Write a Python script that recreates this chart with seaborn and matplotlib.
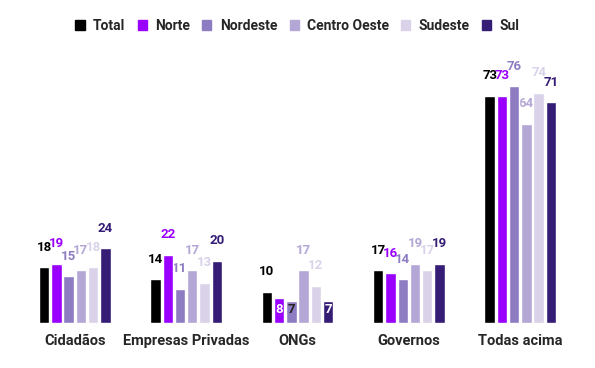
import numpy as np
import pandas as pd
import matplotlib as mpl
mpl.use("Agg")
import matplotlib.pyplot as plt
import matplotlib.colors as mcolors
import seaborn as sns

# Data
categorias = ["Cidadãos", "Empresas Privadas", "ONGs", "Governos", "Todas acima"]
regioes = ["Total", "Norte", "Nordeste", "Centro Oeste", "Sudeste", "Sul"]
total = [18, 14, 10, 17, 73]
norte = [19, 22, 8, 16, 73]
nordeste = [15, 11, 7, 14, 76]
centro_oeste = [17, 17, 17, 19, 64]
sudeste = [18, 13, 12, 17, 74]
sul = [24, 20, 7, 19, 71]
cores = ["#000000", "#9900ff", "#8e7cc3", "#b4a7d6", "#d9d2e9", "#351c75"]

series = [total, norte, nordeste, centro_oeste, sudeste, sul]
df = pd.DataFrame([(c, r, v) for r, vals in zip(regioes, series)
                   for c, v in zip(categorias, vals)],
                  columns=["categoria", "regiao", "valor"])

sns.set_style("white")
plt.rcParams['font.family'] = ['Roboto', 'DejaVu Sans']

fig = plt.figure(figsize=(5.95, 3.68), dpi=100)
ax = fig.add_axes([19 / 595, 45 / 368, 557 / 595, 249 / 368])

sns.barplot(data=df, x="categoria", y="valor", hue="regiao", order=categorias,
            hue_order=regioes, palette=cores, width=0.66, gap=0.15,
            saturation=1, legend=False, ax=ax)
ax.set_ylim(0, 80)
ax.set_xlim(-0.5, len(categorias) - 0.5)

# value labels (small values go inside the bar)
for cont, cor in zip(ax.containers, cores):
    for bar in cont:
        v = bar.get_height()
        x = bar.get_x() + bar.get_width() / 2
        if v < 9:
            r, g, b = mcolors.to_rgb(cor)
            lum = 0.2126 * r + 0.7152 * g + 0.0722 * b
            tc = "#222222" if lum > 0.2 else "white"
            ax.text(x, 4.2, f"{v:.0f}", ha="center", va="center", color=tc,
                    fontsize=9.5, fontweight="bold", zorder=5)
        else:
            ax.text(x, v + 6.4, f"{v:.0f}", ha="center", va="center", color=cor,
                    fontsize=9.5, fontweight="bold", zorder=0.5, clip_on=False)

for s in ax.spines.values():
    s.set_visible(False)
ax.set_yticks([])
ax.set_xlabel("")
ax.set_ylabel("")
ax.tick_params(axis="x", length=0, pad=8)
for t in ax.get_xticklabels():
    t.set_fontweight("bold")
    t.set_fontsize(10.5)

handles = [mpl.patches.Patch(color=c, label=r) for r, c in zip(regioes, cores)]
fig.legend(handles=handles, loc="center", bbox_to_anchor=(0.5, 1 - 26 / 368),
           ncol=6, frameon=False, handlelength=0.65, handleheight=0.65,
           handletextpad=0.6, columnspacing=0.9,
           prop={"weight": "bold", "size": 10})

fig.savefig("out.png", dpi=100)
